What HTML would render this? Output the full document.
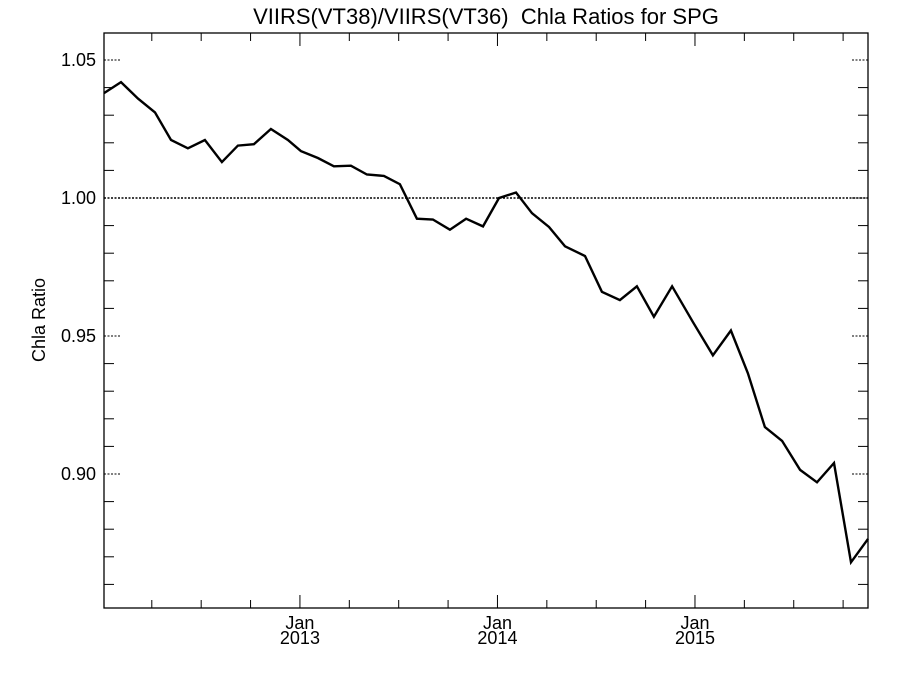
<!DOCTYPE html>
<html><head><meta charset="utf-8"><style>
body{margin:0;background:#fff}
svg{display:block;font-family:"Liberation Sans",sans-serif}
</style></head><body>
<svg id="chart" width="900" height="675">
<text x="486" y="24" font-size="22" text-anchor="middle" style="white-space:pre">VIIRS(VT38)/VIIRS(VT36)  Chla Ratios for SPG</text>
<text transform="translate(45,320) rotate(-90)" font-size="18" text-anchor="middle">Chla Ratio</text>
<g id="axes"></g>
<g id="marks"></g>
</svg>
<script>
const dates=[2012.008,2012.094,2012.180,2012.266,2012.347,2012.433,2012.519,2012.605,2012.686,2012.767,2012.853,2012.939,2013.005,2013.091,2013.172,2013.258,2013.339,2013.425,2013.506,2013.592,2013.673,2013.759,2013.841,2013.927,2014.008,2014.094,2014.175,2014.261,2014.342,2014.443,2014.529,2014.620,2014.706,2014.792,2014.884,2014.990,2015.091,2015.182,2015.268,2015.354,2015.441,2015.532,2015.618,2015.704,2015.790,2015.876];
const ratios=[1.038,1.042,1.036,1.031,1.021,1.018,1.021,1.013,1.019,1.0195,1.025,1.021,1.017,1.0145,1.0115,1.0117,1.0085,1.008,1.005,0.9925,0.9922,0.9885,0.9925,0.9897,1.0,1.002,0.9945,0.9895,0.9825,0.979,0.966,0.963,0.968,0.957,0.968,0.955,0.943,0.952,0.9365,0.917,0.912,0.9015,0.897,0.904,0.868,0.8765];
const yTickLabels=["0.90","0.95","1.00","1.05"];
const xTickYears=["2013","2014","2015"];
const refLine=1.0;

const L=104,R=868,T=33,B=608;
const x0=2012.008,x1=2015.876,y0=0.85145,y1=1.05978;
const sx=v=>L+(v-x0)/(x1-x0)*(R-L);
const sy=v=>B-(v-y0)/(y1-y0)*(B-T);
const NS="http://www.w3.org/2000/svg";
const axes=document.getElementById('axes'),marks=document.getElementById('marks');
function mk(tag,attrs,parent){const e=document.createElementNS(NS,tag);for(const k in attrs)e.setAttribute(k,attrs[k]);parent.appendChild(e);return e;}

const frame=mk('rect',{x:L,y:T,width:R-L,height:B-T,fill:'none',stroke:'#000','stroke-width':1.3},axes);



for(let k=86;k<=105;k++){const v=k/100,y=sy(v);
 const major=(k%5===0);
 if(major){
  const a=mk('line',{x1:L,x2:L+16,y1:y,y2:y,stroke:'#000','stroke-dasharray':'2,1.5'},axes);
  
  
  const b=mk('line',{x1:R-16,x2:R,y1:y,y2:y,stroke:'#000','stroke-dasharray':'2,1.5'},axes);
  
  
 }else{
  const a=mk('line',{x1:L,x2:L+10,y1:y,y2:y,stroke:'#000'},axes);
  
  
  const b=mk('line',{x1:R-10,x2:R,y1:y,y2:y,stroke:'#000'},axes);
  
  
 }
}
yTickLabels.forEach(s=>{const t=mk('text',{x:L-8,y:sy(parseFloat(s))+6,'font-size':18,'text-anchor':'end'},axes);t.textContent=s;
 
 });

for(let q=2012.25;q<x1;q+=0.25){const x=sx(q),maj=Math.abs(q-Math.round(q))<1e-6,len=maj?13:8;
 const a=mk('line',{x1:x,x2:x,y1:B,y2:B-len,stroke:'#000'},axes);
 
 
 const b=mk('line',{x1:x,x2:x,y1:T,y2:T+len,stroke:'#000'},axes);
 
 }
xTickYears.forEach(s=>{const x=sx(parseFloat(s));
 const t1=mk('text',{x:x,y:B+21,'font-size':18,'text-anchor':'middle'},axes);t1.textContent='Jan';
 
 
 const t2=mk('text',{x:x,y:B+36,'font-size':18,'text-anchor':'middle'},axes);t2.textContent=s;
 
 });

const ref=mk('line',{x1:L,x2:R,y1:sy(refLine),y2:sy(refLine),stroke:'#000','stroke-width':1.6,'stroke-dasharray':'2,1.5'},marks);



const pts=dates.map((d,i)=>sx(d).toFixed(1)+','+sy(ratios[i]).toFixed(1)).join(' ');
const pl=mk('polyline',{points:pts,fill:'none',stroke:'#000','stroke-width':2.4,'stroke-linejoin':'miter'},marks);


</script>
</body></html>
